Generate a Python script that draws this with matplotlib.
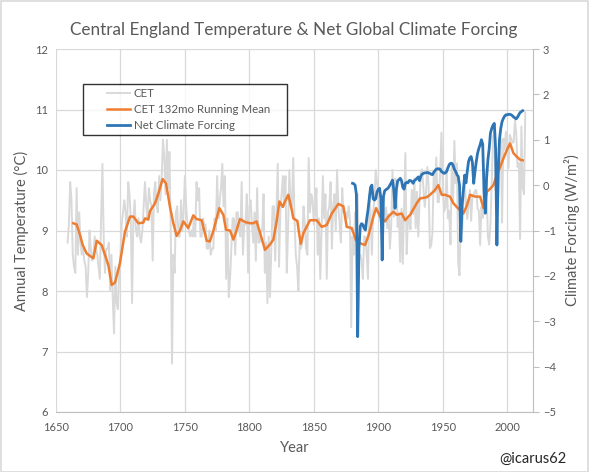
import numpy as np
import matplotlib
matplotlib.use("Agg")
import matplotlib.pyplot as plt
from matplotlib.legend_handler import HandlerLine2D
from matplotlib.lines import Line2D
from matplotlib.patches import Rectangle

# ---------------- data ----------------
cet_start_year = 1659
cet_values = [
    # 1659-1669
    8.8, 9.1, 9.8, 9.5, 8.6, 8.4, 8.3, 9.7, 8.6, 9.3, 8.8,
    # 1670s
    8.6, 8.7, 8.5, 8.4, 7.9, 8.3, 9.0, 8.7, 8.5, 8.6,
    # 1680s
    8.9, 8.7, 8.6, 8.4, 8.2, 9.2, 10.1, 8.9, 8.3, 8.7,
    # 1690s
    8.7, 8.8, 8.0, 8.6, 7.9, 7.3, 8.4, 7.8, 7.7, 8.3,
    # 1700s
    8.6, 9.1, 9.3, 9.5, 9.3, 8.9, 9.8, 9.6, 9.2, 7.8,
    # 1710s
    9.2, 9.5, 9.0, 8.9, 9.2, 8.9, 8.8, 9.0, 9.4, 9.8,
    # 1720s
    9.4, 9.2, 9.7, 9.5, 9.4, 8.5, 9.6, 9.8, 9.4, 9.3,
    # 1730s
    9.9, 9.5, 9.9, 10.5, 10.2, 9.6, 10.5, 9.7, 10.3, 9.0,
    # 1740s
    6.8, 8.6, 8.3, 9.3, 9.4, 8.9, 8.9, 9.5, 9.0, 9.3,
    # 1750s
    9.9, 9.4, 9.1, 9.0, 8.9, 9.0, 8.9, 9.2, 8.9, 9.8,
    # 1760s
    9.5, 9.7, 8.9, 8.9, 9.2, 9.1, 9.1, 8.7, 8.7, 9.0,
    # 1770s
    8.6, 8.7, 8.7, 9.2, 9.0, 9.9, 9.2, 9.5, 9.7, 10.1,
    # 1780s
    9.4, 9.9, 8.2, 9.2, 7.9, 8.2, 8.7, 9.2, 9.2, 8.6,
    # 1790s
    9.3, 9.3, 9.0, 8.9, 9.8, 8.6, 9.1, 9.1, 9.6, 8.3,
    # 1800s
    9.4, 9.5, 9.1, 8.8, 9.3, 8.5, 9.7, 8.8, 8.8, 9.0,
    # 1810s
    9.0, 9.6, 8.3, 8.8, 7.8, 8.9, 7.9, 8.7, 9.4, 9.4,
    # 1820s
    8.5, 9.3, 10.1, 8.4, 9.3, 9.6, 9.9, 9.4, 9.9, 8.3,
    # 1830s
    9.0, 10.0, 9.4, 9.4, 10.2, 9.2, 8.6, 8.4, 8.0, 8.8,
    # 1840s
    8.7, 8.8, 9.4, 9.1, 8.7, 8.6, 10.2, 9.3, 9.6, 9.5,
    # 1850s
    9.1, 9.3, 9.7, 8.6, 9.2, 8.2, 9.0, 9.9, 9.2, 9.6,
    # 1860s
    8.2, 9.3, 9.4, 9.8, 8.7, 9.4, 9.6, 9.0, 10.0, 9.4,
    # 1870s
    9.1, 8.8, 9.7, 9.3, 9.3, 9.3, 9.2, 9.4, 9.2, 7.4,
    # 1880s
    8.9, 8.6, 9.3, 9.0, 9.6, 8.6, 8.6, 8.5, 8.2, 8.9,
    # 1890s
    8.9, 8.6, 8.2, 9.6, 9.3, 8.6, 9.3, 9.5, 10.0, 9.8,
    # 1900s
    9.52, 9.17, 9.15, 9.32, 9.36, 9.17, 9.38, 9.04, 9.27, 8.70,
    # 1910s
    9.08, 10.00, 9.23, 9.86, 9.83, 9.06, 9.29, 8.48, 9.36, 8.45,
    # 1920s
    9.43, 10.28, 8.61, 9.18, 9.19, 9.02, 9.67, 9.27, 9.86, 9.04,
    # 1930s
    9.64, 8.90, 9.47, 9.95, 10.01, 9.71, 9.39, 9.62, 10.05, 9.76,
    # 1940s
    8.71, 8.75, 8.96, 9.98, 9.63, 10.21, 9.47, 9.47, 9.96, 10.62,
    # 1950s
    9.71, 9.31, 9.38, 10.03, 9.20, 9.33, 8.77, 10.11, 9.47, 10.48,
    # 1960s
    9.78, 10.11, 8.46, 8.26, 9.33, 8.96, 9.50, 9.90, 9.39, 9.19,
    # 1970s
    9.44, 9.67, 9.16, 9.58, 9.58, 9.66, 9.67, 9.36, 9.33, 8.76,
    # 1980s
    9.39, 9.21, 9.95, 10.01, 9.70, 8.90, 8.77, 9.12, 9.81, 10.54,
    # 1990s
    10.63, 9.66, 9.98, 9.55, 10.22, 10.51, 9.13, 10.52, 10.34, 10.63,
    # 2000s
    10.31, 10.03, 10.58, 10.52, 10.45, 10.46, 10.82, 10.61, 10.05, 10.12,
    # 2010-2014
    8.86, 10.72, 9.71, 9.60, 10.95,
]
cet_years = list(range(cet_start_year, cet_start_year + len(cet_values)))

mean_years = [
    1663.4, 1666.0, 1668.6, 1670.7, 1673.8, 1679.0, 1681.6, 1685.4, 1690.6, 1693.2,
    1695.8, 1699.6, 1703.5, 1707.4, 1710.0, 1713.9, 1717.7, 1719.0, 1721.6, 1722.9,
    1726.8, 1729.4, 1732.7, 1735.3, 1737.1, 1738.4, 1741.0, 1743.6, 1746.2, 1748.8,
    1752.6, 1756.5, 1759.0, 1763.0, 1766.9, 1769.4, 1772.0, 1776.7, 1779.8, 1781.9,
    1785.0, 1787.6, 1790.0, 1792.7, 1796.6, 1800.5, 1803.0, 1805.6, 1808.3, 1812.1,
    1816.0, 1818.6, 1821.2, 1823.3, 1825.9, 1827.0, 1830.2, 1832.8, 1834.1, 1837.2,
    1839.8, 1842.0, 1847.0, 1852.2, 1856.1, 1860.0, 1863.9, 1869.0, 1872.9, 1875.5,
    1879.4, 1882.7, 1885.8, 1889.7, 1892.3, 1896.2, 1898.3, 1901.4, 1905.2, 1907.8,
    1911.7, 1914.3, 1918.2, 1920.8, 1924.7, 1929.8, 1932.4, 1937.6, 1940.1, 1944.0,
    1946.6, 1949.2, 1951.8, 1955.6, 1958.2, 1960.8, 1965.9, 1968.5, 1971.2, 1975.1,
    1979.0, 1981.6, 1984.2, 1986.8, 1989.3, 1991.9, 1994.5, 1997.0, 1999.7, 2002.2,
    2004.8, 2007.4, 2010.0, 2012.0,
]
mean_values = [
    9.12, 9.10, 8.93, 8.76, 8.62, 8.54, 8.83, 8.76, 8.43, 8.10,
    8.14, 8.46, 8.98, 9.23, 9.23, 9.12, 9.13, 9.20, 9.18, 9.32,
    9.45, 9.61, 9.85, 9.78, 9.56, 9.39, 9.12, 8.91, 9.00, 9.15,
    9.04, 9.25, 9.19, 9.17, 8.83, 8.82, 8.99, 9.37, 9.26, 9.01,
    9.00, 8.85, 9.00, 9.19, 9.14, 9.12, 9.12, 9.15, 8.96, 8.68,
    8.77, 8.85, 9.16, 9.48, 9.39, 9.45, 9.59, 9.35, 9.20, 9.16,
    8.78, 8.96, 9.17, 9.17, 9.06, 9.09, 9.28, 9.44, 9.40, 9.06,
    9.04, 8.84, 8.79, 8.76, 8.91, 9.23, 9.37, 9.23, 9.15, 9.23,
    9.31, 9.26, 9.28, 9.17, 9.26, 9.45, 9.53, 9.55, 9.59, 9.67,
    9.75, 9.59, 9.59, 9.56, 9.45, 9.39, 9.28, 9.40, 9.59, 9.56,
    9.56, 9.37, 9.64, 9.69, 9.75, 9.92, 10.05, 10.19, 10.33, 10.44,
    10.28, 10.22, 10.17, 10.16,
]

forcing_start_year = 1880
forcing_values = [
    # 1880s
    0.04, 0.03, 0.00, -0.20, -3.34, -1.40, -0.91, -0.85, -0.87, -0.95,
    # 1890s
    -0.99, -0.75, -0.55, -0.30, -0.05, 0.00, -0.30, -0.33, -0.30, -0.15,
    # 1900s
    -0.09, -0.07, -0.30, -1.65, -0.25, -0.12, -0.10, -0.08, -0.05, 0.00,
    # 1910s
    0.05, 0.11, -0.10, -0.51, -0.10, 0.09, 0.12, 0.15, 0.10, -0.05,
    # 1920s
    -0.09, 0.04, 0.06, 0.05, 0.10, 0.10, 0.08, 0.04, 0.10, 0.12,
    # 1930s
    0.15, 0.18, 0.10, 0.20, 0.24, 0.26, 0.27, 0.27, 0.28, 0.27,
    # 1940s
    0.26, 0.24, 0.23, 0.28, 0.32, 0.35, 0.36, 0.36, 0.35, 0.30,
    # 1950s
    0.28, 0.26, 0.27, 0.30, 0.38, 0.45, 0.48, 0.48, 0.44, 0.35,
    # 1960s
    0.30, 0.23, 0.19, 0.00, -1.24, -0.44, -0.10, 0.22, 0.05, 0.30,
    # 1970s
    0.52, 0.60, 0.63, 0.50, 0.04, 0.30, 0.52, 0.70, 0.81, 0.89,
    # 1980s
    1.00, 0.90, -0.10, -0.62, 0.15, 0.55, 0.80, 1.15, 1.25, 1.32,
    # 1990s
    1.36, 0.80, -1.32, 0.30, 1.00, 1.25, 1.40, 1.47, 1.52, 1.55,
    # 2000s
    1.55, 1.56, 1.56, 1.55, 1.53, 1.50, 1.48, 1.46, 1.50, 1.55,
    # 2010-2012
    1.60, 1.62, 1.64,
]
forcing_years = list(range(forcing_start_year, forcing_start_year + len(forcing_values)))

x_ticks = [1650, 1700, 1750, 1800, 1850, 1900, 1950, 2000]
left_ticks = [6, 7, 8, 9, 10, 11, 12]
right_ticks = [-5, -4, -3, -2, -1, 0, 1, 2, 3]

title = "Central England Temperature & Net Global Climate Forcing"
labels = ["CET", "CET 132mo Running Mean", "Net Climate Forcing"]

# ---------------- style ----------------
FONT = ["Lato", "DejaVu Sans"]
plt.rcParams["font.family"] = FONT
TXT = "#595959"
GRID = "#d9d9d9"
AXC = "#bfbfbf"
C_GRAY = "#d9d9d9"
C_ORANGE = "#ed7d31"
C_BLUE = "#2e75b6"

W, H = 589, 472
fig = plt.figure(figsize=(W / 100, H / 100), dpi=100)
ax = fig.add_axes([56 / W, 1 - 412 / H, 477 / W, 363 / H])
ax2 = ax.twinx()

l1, = ax.plot(cet_years, cet_values, color=C_GRAY, lw=1.4, zorder=2)
l2, = ax.plot(mean_years, mean_values, color=C_ORANGE, lw=1.8, zorder=3)
l3, = ax2.plot(forcing_years, forcing_values, color=C_BLUE, lw=2.0, zorder=3)

ax.set_zorder(1)
ax.patch.set_visible(False)
ax2.set_zorder(2)
ax2.patch.set_visible(False)

ax.set_xlim(1650, 2020)
ax.set_ylim(6, 12)
ax2.set_ylim(-5, 3)
ax.set_xticks(x_ticks)
ax.set_yticks(left_ticks)
ax2.set_yticks(right_ticks)

ax.grid(True, color=GRID, lw=0.9, zorder=0)
ax.set_axisbelow(True)

for s in ["top", "left", "right"]:
    ax.spines[s].set_visible(False)
for s in ["top", "left", "bottom"]:
    ax2.spines[s].set_visible(False)
ax.spines["bottom"].set_color(AXC)
ax2.spines["right"].set_color(AXC)

ax.tick_params(axis="x", length=0, pad=7, labelsize=8, labelcolor=TXT)
ax.tick_params(axis="y", length=0, pad=6, labelsize=8, labelcolor=TXT)
ax2.tick_params(axis="y", length=4, color=AXC, pad=3, labelsize=8, labelcolor=TXT)

ax.set_xlabel("Year", fontsize=10.5, color=TXT, labelpad=6)
ax.set_ylabel("Annual Temperature (\u00b0C)", fontsize=10.5, color=TXT, labelpad=4)
ax2.set_ylabel("Climate Forcing (W/m\u00b2)", fontsize=10.5, color=TXT, labelpad=6)

fig.text(294 / W, 1 - 30 / H, title, ha="center", va="center",
         fontsize=12.3, color=TXT)
fig.text(567 / W, 1 - 459 / H, "@icarus62", ha="right", va="center",
         fontsize=10.5, color="#262626")


class ShiftHandler(HandlerLine2D):
    def __init__(self, shift_px, **kw):
        super().__init__(**kw)
        self.shift_px = shift_px

    def create_artists(self, legend, orig_handle, xdescent, ydescent,
                       width, height, fontsize, trans):
        arts = super().create_artists(legend, orig_handle, xdescent, ydescent,
                                      width, height, fontsize, trans)
        for a in arts:
            if isinstance(a, Line2D):
                x = np.asarray(a.get_xdata(), dtype=float)
                a.set_xdata(np.linspace(x[0] + self.shift_px * 72 / 100, x[-1], len(x)))
        return arts


leg_x0 = (83 - 56) / 477
leg_y1 = 1 - (84 - 49) / 363
leg_w = (287 - 83) / 477
leg_h = (140 - 84) / 363
h = ShiftHandler(20)
leg = ax.legend([l1, l2, l3], labels, loc="upper left",
                bbox_to_anchor=(leg_x0, leg_y1 - leg_h, leg_w, leg_h),
                mode="expand", borderaxespad=0, frameon=True, fancybox=False,
                fontsize=8.3, handlelength=3.7, handletextpad=0.35,
                labelspacing=0.42, borderpad=0.35,
                handler_map={l1: h, l2: h, l3: h})
leg.get_frame().set_edgecolor("black")
leg.get_frame().set_linewidth(1.0)
for t in leg.get_texts():
    t.set_color(TXT)
leg.set_zorder(10)

fig.patches.append(Rectangle((0.5 / W, 0.5 / H), 1 - 1.5 / W, 1 - 1.5 / H,
                             transform=fig.transFigure, fill=False,
                             edgecolor=GRID, lw=1.2))

fig.savefig("out.png", dpi=100)
